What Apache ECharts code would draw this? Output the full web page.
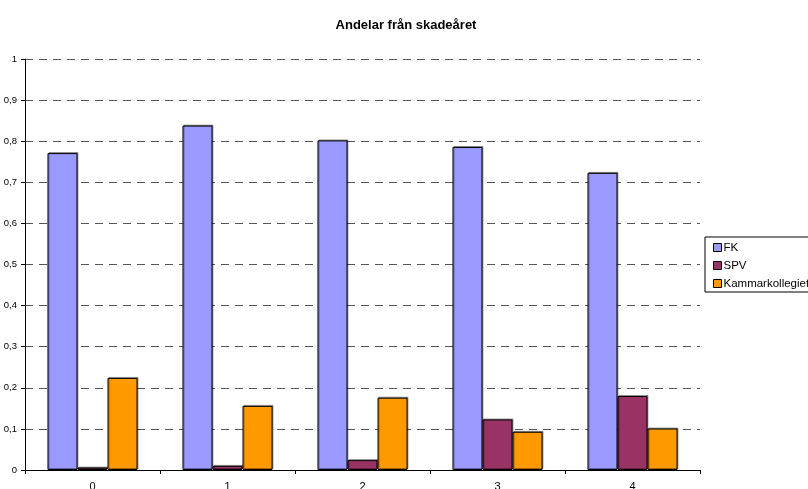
<!DOCTYPE html>
<html>
<head>
<meta charset="utf-8">
<script src="https://cdn.jsdelivr.net/npm/echarts@6/dist/echarts.min.js"></script>
<style>
  html, body { margin: 0; padding: 0; background: #fff; overflow: hidden; }
  #chart { width: 808px; height: 489px; }
</style>
</head>
<body>
<div id="chart"></div>
<script>
// Years since the injury year
const categories = ['0', '1', '2', '3', '4'];

// Share per payer
const fkValues = [0.771, 0.838, 0.802, 0.786, 0.723];
const spvValues = [0.006, 0.010, 0.024, 0.123, 0.180];
const kammarValues = [0.224, 0.156, 0.176, 0.093, 0.101];

const seriesNames = ['FK', 'SPV', 'Kammarkollegiet'];
const seriesColors = ['#9999FF', '#993366', '#FF9900'];

const font = 'Arial, "Liberation Sans", sans-serif';

function barSeries(name, values, color) {
  return {
    name: name,
    type: 'bar',
    data: values,
    barGap: '0%',
    barCategoryGap: '33.3%',
    itemStyle: {
      color: color,
      borderColor: '#000',
      borderWidth: 1,
      shadowColor: 'rgba(0,0,0,0.35)',
      shadowBlur: 0,
      shadowOffsetX: 1,
      shadowOffsetY: -1
    },
    emphasis: { disabled: true }
  };
}

const chart = echarts.init(document.getElementById('chart'), null, { renderer: 'canvas' });
chart.setOption({
  animation: false,
  backgroundColor: '#fff',
  title: {
    text: 'Andelar från skadeåret',
    left: 401,
    textAlign: 'center',
    top: 14,
    textStyle: { fontFamily: font, fontSize: 13, fontWeight: 'bold', color: '#000' }
  },
  legend: {
    orient: 'vertical',
    left: 705,
    top: 237,
    data: seriesNames,
    icon: 'rect',
    itemWidth: 8,
    itemHeight: 8,
    itemGap: 5,
    padding: [4, 12, 2, 8],
    borderColor: '#000',
    borderWidth: 1,
    textStyle: { fontFamily: font, fontSize: 11.5, lineHeight: 13, color: '#000', padding: [0, 0, 0, -3] },
    itemStyle: { borderColor: '#000', borderWidth: 1, shadowBlur: 0, shadowOffsetX: 0, shadowOffsetY: 0 }
  },
  grid: { left: 25, right: 108, top: 59, bottom: 19, outerBoundsMode: 'none', containLabel: false },
  xAxis: {
    type: 'category',
    data: categories,
    axisLine: { lineStyle: { color: '#000', width: 1 } },
    axisTick: { show: true, length: 4, lineStyle: { color: '#000' } },
    axisLabel: { fontFamily: font, fontSize: 11, color: '#000', margin: 11 },
    splitLine: { show: false }
  },
  yAxis: {
    type: 'value',
    min: 0,
    max: 1,
    interval: 0.1,
    axisLine: { show: true, lineStyle: { color: '#000', width: 1 } },
    axisTick: { show: true, length: 4, lineStyle: { color: '#000' } },
    axisLabel: {
      fontFamily: font,
      fontSize: 9.5,
      color: '#000',
      margin: 8,
      formatter: function (v) {
        if (v === 0 || v === 1) return String(v);
        return v.toFixed(1).replace('.', ',');
      }
    },
    splitLine: { show: true, lineStyle: { color: '#555', width: 1, type: [8, 6] } }
  },
  series: [
    barSeries(seriesNames[0], fkValues, seriesColors[0]),
    barSeries(seriesNames[1], spvValues, seriesColors[1]),
    barSeries(seriesNames[2], kammarValues, seriesColors[2])
  ]
});
</script>
</body>
</html>
